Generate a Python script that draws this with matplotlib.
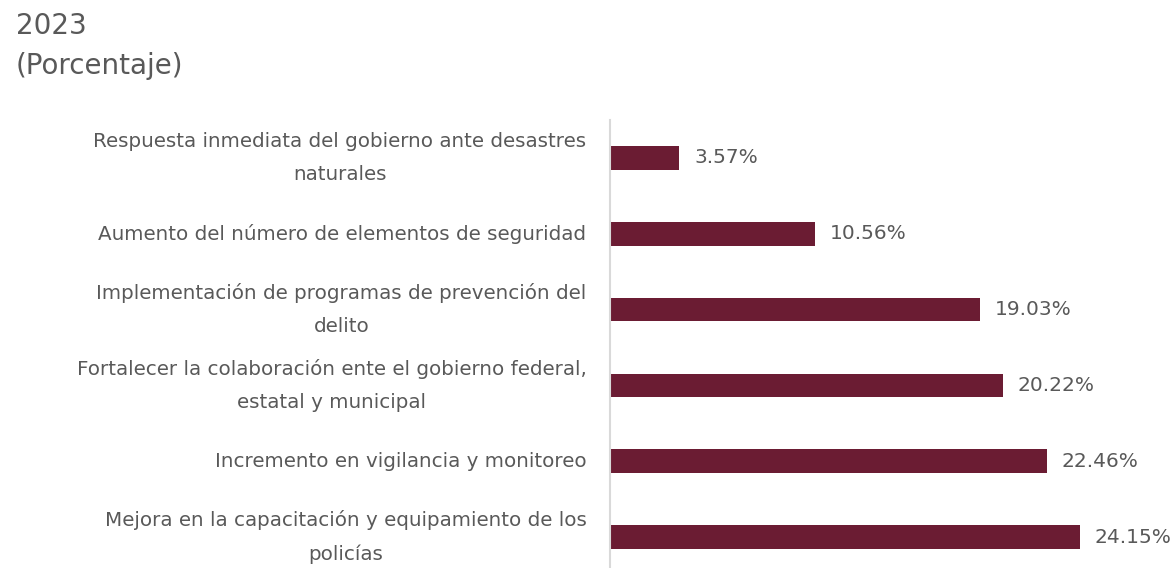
import matplotlib
matplotlib.use("Agg")
import matplotlib.pyplot as plt

categories = [
    "Respuesta inmediata del gobierno ante desastres\nnaturales",
    "Aumento del número de elementos de seguridad",
    "Implementación de programas de prevención del\ndelito",
    "Fortalecer la colaboración ente el gobierno federal,\nestatal y municipal",
    "Incremento en vigilancia y monitoreo",
    "Mejora en la capacitación y equipamiento de los\npolicías",
]
values = [3.57, 10.56, 19.03, 20.22, 22.46, 24.15]
value_labels = ["3.57%", "10.56%", "19.03%", "20.22%", "22.46%", "24.15%"]

BAR = "#6B1C33"
TXT = "#595959"
FONT = ["DejaVu Sans"]

plt.rcParams["font.family"] = FONT

W, H = 1173, 568
fig = plt.figure(figsize=(W / 100, H / 100), dpi=100)
fig.patch.set_facecolor("white")

left_px, top_px, bottom_px = 610, 120, 575
xmax = 28.0
px_per_unit = 19.45
ax = fig.add_axes([left_px / W, (H - bottom_px) / H,
                   xmax * px_per_unit / W, (bottom_px - top_px) / H])

y = list(range(len(categories)))
ax.barh(y, values, height=0.31, color=BAR, zorder=2)
ax.set_ylim(len(categories) - 0.5, -0.5)
ax.set_xlim(0, xmax)

for yi, v, lab in zip(y, values, value_labels):
    ax.text(v + 0.75, yi, lab, va="center", ha="left", fontsize=14.5, color=TXT)

ax.set_yticks(y)
ax.set_yticklabels(categories, fontsize=14.3, color=TXT, linespacing=1.9)
for t in ax.get_yticklabels():
    t.set_multialignment("center")
    t.set_verticalalignment("center")
ax.tick_params(axis="y", length=0, pad=17)
ax.set_xticks([])
for s in ["top", "right", "bottom"]:
    ax.spines[s].set_visible(False)
ax.spines["left"].set_color("#D9D9D9")
ax.spines["left"].set_linewidth(1.5)

fig.text(16 / W, 1 - 34 / H, "2023", fontsize=20, color=TXT, ha="left", va="baseline")
fig.text(16 / W, 1 - 74 / H, "(Porcentaje)", fontsize=20, color=TXT, ha="left", va="baseline")

fig.savefig("out.png", dpi=100, facecolor="white")
